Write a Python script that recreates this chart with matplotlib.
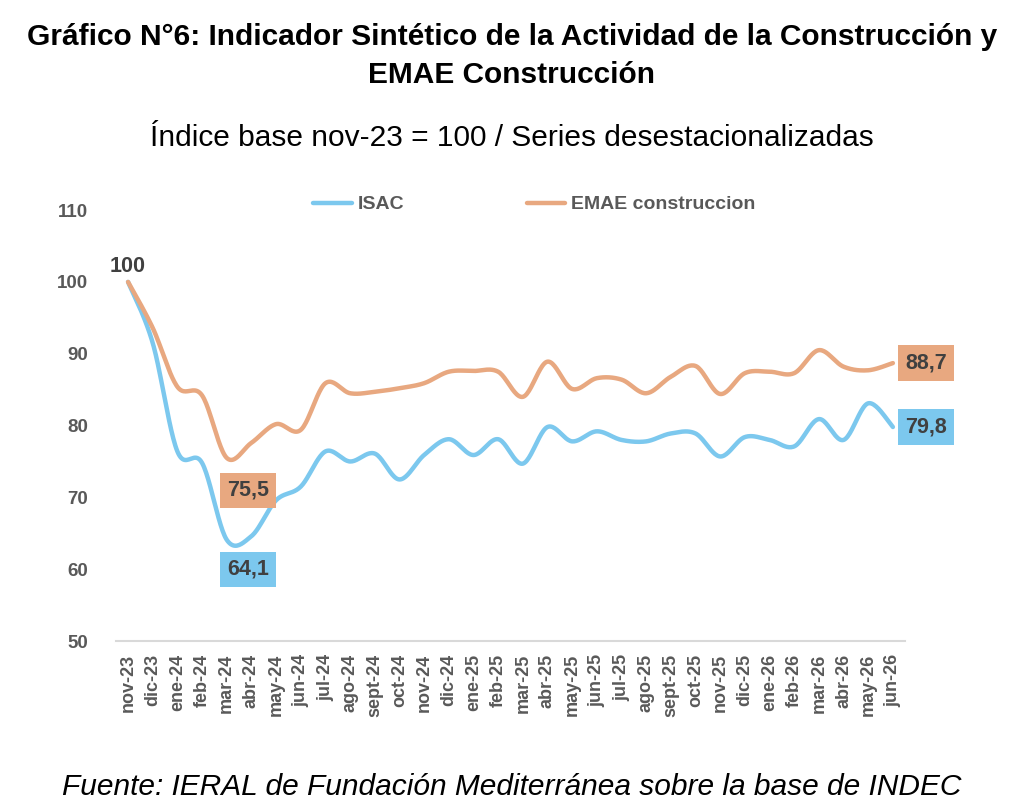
import numpy as np
import matplotlib
matplotlib.use("Agg")
import matplotlib.pyplot as plt

plt.rcParams["font.family"] = ["Liberation Sans", "DejaVu Sans"]

# ---------------------------------------------------
# Data
# ---------------------------------------------------
months = [
    "nov-23", "dic-23", "ene-24", "feb-24", "mar-24", "abr-24", "may-24", "jun-24",
    "jul-24", "ago-24", "sept-24", "oct-24", "nov-24", "dic-24", "ene-25", "feb-25",
    "mar-25", "abr-25", "may-25", "jun-25", "jul-25", "ago-25", "sept-25", "oct-25",
    "nov-25", "dic-25", "ene-26", "feb-26", "mar-26", "abr-26", "may-26", "jun-26",
]
isac = [
    100.0, 91.5, 76.4, 74.8, 64.1, 64.6, 69.6, 71.5,
    76.4, 75.0, 76.1, 72.5, 75.9, 78.1, 75.9, 78.1,
    74.7, 79.8, 77.8, 79.2, 78.0, 77.8, 78.9, 78.9,
    75.7, 78.4, 78.0, 77.1, 80.9, 78.0, 83.1, 79.8,
]
emae = [
    100.0, 93.6, 85.4, 84.2, 75.5, 77.6, 80.2, 79.4,
    85.9, 84.5, 84.7, 85.2, 85.9, 87.5, 87.6, 87.5,
    84.0, 88.9, 85.1, 86.6, 86.4, 84.5, 86.8, 88.3,
    84.4, 87.3, 87.5, 87.3, 90.5, 88.2, 87.7, 88.7,
]
yticks = [50, 60, 70, 80, 90, 100, 110]

blue = "#7CC8EE"
orange = "#E8A880"
gray = "#595959"


def smooth(y, steps=24):
    # Catmull-Rom curve, similar to the smoothed line in Excel
    y = np.asarray(y, dtype=float)
    x = np.arange(len(y), dtype=float)
    px = np.concatenate([[x[0]], x, [x[-1]]])
    py = np.concatenate([[y[0]], y, [y[-1]]])
    xs, ys = [], []
    t = np.linspace(0, 1, steps, endpoint=False)
    for i in range(1, len(px) - 2):
        for arr, out in ((px, xs), (py, ys)):
            p0, p1, p2, p3 = arr[i - 1], arr[i], arr[i + 1], arr[i + 2]
            out.extend(0.5 * ((2 * p1) + (-p0 + p2) * t
                              + (2 * p0 - 5 * p1 + 4 * p2 - p3) * t ** 2
                              + (-p0 + 3 * p1 - 3 * p2 + p3) * t ** 3))
    xs.append(x[-1])
    ys.append(y[-1])
    return np.array(xs), np.array(ys)


# ---------------------------------------------------
# Figure
# ---------------------------------------------------
fig = plt.figure(figsize=(10.24, 8.10), dpi=100)
ax = fig.add_axes([0.113, 0.2086, 0.771, 0.532])

xs, ys = smooth(isac)
ax.plot(xs, ys, color=blue, lw=3.2, solid_capstyle="round", label="ISAC")
xs, ys = smooth(emae)
ax.plot(xs, ys, color=orange, lw=3.2, solid_capstyle="round", label="EMAE construccion")

ax.set_xlim(-0.5, len(months) - 0.5)
ax.set_ylim(50, 110)
ax.set_yticks(yticks)
ax.set_xticks(range(len(months)))
ax.set_xticklabels(months, rotation=90, fontsize=13, fontweight="bold", color=gray)
ax.set_yticklabels([str(v) for v in yticks], fontsize=13.5, fontweight="bold", color=gray)
ax.tick_params(axis="both", length=0)
ax.tick_params(axis="x", pad=9)
ax.tick_params(axis="y", pad=20)

for side in ["top", "right", "left"]:
    ax.spines[side].set_visible(False)
ax.spines["bottom"].set_color("#D9D9D9")
ax.spines["bottom"].set_linewidth(1.5)

# data labels
lbl = dict(fontsize=15.5, fontweight="bold", color="#404040", ha="center", va="center")
box = "square,pad=0.33"
ax.text(0, emae[0] + 2.2, "100", **lbl)
imin = int(np.argmin(emae))
ax.text(imin + 0.85, emae[imin] - 4.5, "75,5",
        bbox=dict(boxstyle=box, fc=orange, ec="none"), **lbl)
imin = int(np.argmin(isac))
ax.text(imin + 0.85, isac[imin] - 4.1, "64,1",
        bbox=dict(boxstyle=box, fc=blue, ec="none"), **lbl)
n = len(months) - 1
ax.text(n + 1.35, emae[n], "88,7",
        bbox=dict(boxstyle=box, fc=orange, ec="none"), **lbl)
ax.text(n + 1.35, isac[n], "79,8",
        bbox=dict(boxstyle=box, fc=blue, ec="none"), **lbl)

leg = ax.legend(loc="center", bbox_to_anchor=(0.53, 1.013), ncol=2, frameon=False,
                handlelength=2.0, columnspacing=6.3, handletextpad=0.3,
                prop=dict(size=14, weight="bold"))
for t in leg.get_texts():
    t.set_color(gray)

# titles
fig.text(0.5, 0.954, "Gráfico N°6: Indicador Sintético de la Actividad de la Construcción y",
         ha="center", va="center", fontsize=21.5, fontweight="bold")
fig.text(0.5, 0.908, "EMAE Construcción", ha="center", va="center",
         fontsize=21.5, fontweight="bold")
fig.text(0.5, 0.83, "Índice base nov-23 = 100 / Series desestacionalizadas",
         ha="center", va="center", fontsize=21.5)
fig.text(0.5, 0.029, "Fuente: IERAL de Fundación Mediterránea sobre la base de INDEC",
         ha="center", va="center", fontsize=21.5, style="italic")

fig.savefig("out.png", dpi=100, facecolor="white")
